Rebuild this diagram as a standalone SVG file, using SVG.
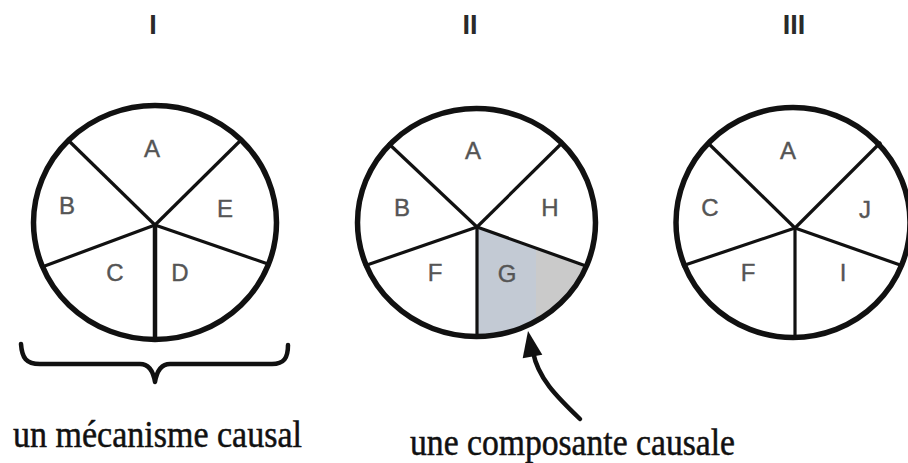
<svg xmlns="http://www.w3.org/2000/svg" width="908" height="463" viewBox="0 0 908 463">
<style>
.rim{fill:none;stroke:#111;stroke-width:5.5}
.spk{fill:none;stroke:#111;stroke-width:3.2;stroke-linecap:butt}
.lbl{font-family:"Liberation Sans",Arial,sans-serif;font-size:24px;fill:#555;text-anchor:middle;stroke:#555;stroke-width:0.4}
.num{font-family:"Liberation Sans",Arial,sans-serif;font-size:27px;font-weight:bold;fill:#2a2a2a;text-anchor:middle}
.cap{font-family:"Liberation Serif","Times New Roman",serif;font-size:37px;fill:#111;stroke:#111;stroke-width:0.5}
.ink{fill:none;stroke:#111;stroke-width:4.5;stroke-linecap:round;stroke-linejoin:round}
</style>
<defs>
<clipPath id="gclip"><path d="M477,227 L586,266 A119,114 0 0 1 477,337 Z"/></clipPath>
</defs>
<rect width="908" height="463" fill="#fff"/>

<g id="numerals">
<text class="num" x="153" y="34">I</text>
<text class="num" x="470" y="34">II</text>
<text class="num" x="794" y="34">III</text>
</g>

<g id="pie1">
<line class="spk" x1="155" y1="225" x2="68" y2="140"/>
<line class="spk" x1="155" y1="225" x2="240" y2="141"/>
<line class="spk" x1="155" y1="225" x2="42" y2="267"/>
<line class="spk" x1="155" y1="225" x2="268" y2="264"/>
<line class="spk" x1="155" y1="225" x2="155" y2="340" style="stroke-width:4.5"/>
<ellipse class="rim" cx="155" cy="222.5" rx="121.5" ry="117"/>
<text class="lbl" x="152" y="157">A</text>
<text class="lbl" x="67" y="214">B</text>
<text class="lbl" x="225" y="217">E</text>
<text class="lbl" x="115" y="281">C</text>
<text class="lbl" x="180" y="281">D</text>
</g>

<g id="pie2">
<path d="M477,227 L586,266 A119,114 0 0 1 477,337 Z" fill="#c3cad4"/>
<rect x="536" y="240" width="60" height="110" fill="#cacaca" clip-path="url(#gclip)"/>
<line class="spk" x1="477" y1="227" x2="388" y2="143"/>
<line class="spk" x1="477" y1="227" x2="562" y2="143"/>
<line class="spk" x1="477" y1="227" x2="364" y2="266"/>
<line class="spk" x1="477" y1="227" x2="586" y2="266"/>
<line class="spk" x1="477" y1="227" x2="477" y2="337"/>
<ellipse class="rim" cx="476.5" cy="222.5" rx="119" ry="114"/>
<text class="lbl" x="473" y="159">A</text>
<text class="lbl" x="402" y="216">B</text>
<text class="lbl" x="550" y="216">H</text>
<text class="lbl" x="435" y="281">F</text>
<text class="lbl" x="507" y="282">G</text>
</g>

<g id="pie3">
<line class="spk" x1="795" y1="228" x2="708" y2="143"/>
<line class="spk" x1="795" y1="228" x2="881" y2="142"/>
<line class="spk" x1="795" y1="228" x2="682" y2="266"/>
<line class="spk" x1="795" y1="228" x2="903" y2="266"/>
<line class="spk" x1="795" y1="228" x2="795" y2="338"/>
<ellipse class="rim" cx="793" cy="222.5" rx="117" ry="115"/>
<text class="lbl" x="788" y="159">A</text>
<text class="lbl" x="710" y="216">C</text>
<text class="lbl" x="865" y="218">J</text>
<text class="lbl" x="748" y="281">F</text>
<text class="lbl" x="843" y="281">I</text>
</g>

<g id="connectors">
<path class="ink" d="M21,344 C22,358 26,364 40,364 L140,364 C148,364 153,370 155,382 C157,370 162,364 170,364 L272,364 C284,364 288,358 288,345"/>
<path class="ink" d="M580,419 C556,396 538,378 533,352"/>
<polygon points="528,331 522.7,358.3 542.3,354.7" fill="#111"/>
</g>

<g id="captions">
<text class="cap" x="13" y="447" textLength="289" lengthAdjust="spacingAndGlyphs">un mécanisme causal</text>
<text class="cap" x="410" y="455" textLength="325" lengthAdjust="spacingAndGlyphs">une composante causale</text>
</g>
</svg>
